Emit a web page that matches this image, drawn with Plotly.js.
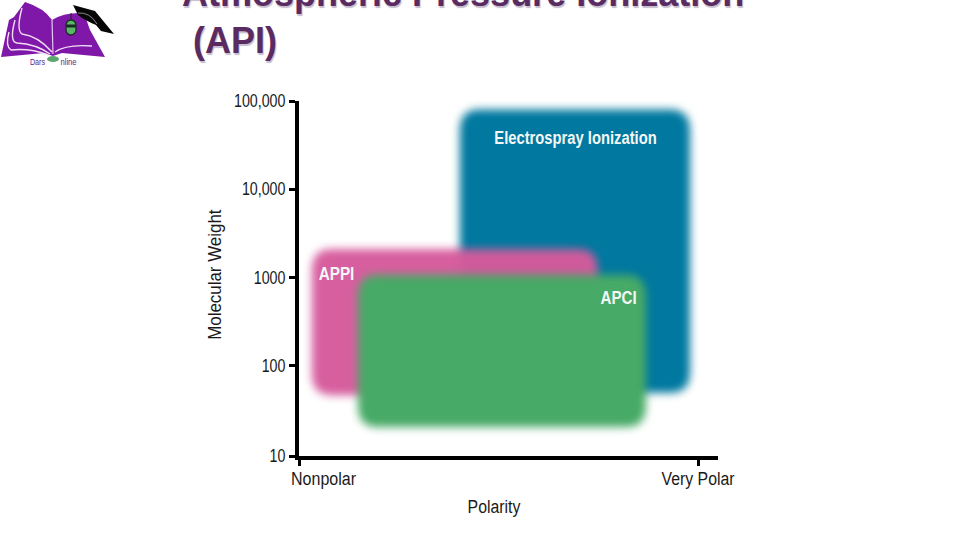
<!DOCTYPE html>
<html>
<head>
<meta charset="utf-8">
<script src="https://cdn.plot.ly/plotly-3.0.1.min.js"></script>
<style>html,body{margin:0;padding:0;background:#fff;overflow:hidden}</style>
</head>
<body>
<div id="chart" style="width:960px;height:540px"></div>
<script>
// Regions (polarity 0..1, molecular weight)
var regionNames = ["Electrospray Ionization", "APPI", "APCI"];
var polarityLow = [0.406, 0.037, 0.152];
var polarityHigh = [0.980, 0.750, 0.870];
var weightLow = [49, 46, 20];
var weightHigh = [80000, 2100, 1070];
var regionColors = ["#00789f", "#d65a9c", "#47aa66"];
var regionOpacity = [1, 0.97, 1];

var labelPolarity = [0.6945, 0.0985, 0.802];
var labelWeight = [36500, 1040, 555];

var weightTicks = [9.4, 100, 1000, 10000, 100000];
var weightTickText = ["10", "100", "1000", "10,000", "100,000"];
var polarityTicks = [0, 1];
var polarityTickText = ["", "Very Polar"];

var W = 960, H = 540, L = 299, R = 718, T = 101, B = 456;
function px(x) { return (x - L) / (R - L); }
function py(y) { return (B - y) / (B - T); }

function regionPath(i) {
  var rx = 0.05, ry = 0.24, f = Math.pow(10, ry);
  var a = polarityLow[i], b = polarityHigh[i], c = weightLow[i], d = weightHigh[i];
  return "M" + (a + rx) + "," + c +
    " L" + (b - rx) + "," + c + " Q" + b + "," + c + " " + b + "," + (c * f) +
    " L" + b + "," + (d / f) + " Q" + b + "," + d + " " + (b - rx) + "," + d +
    " L" + (a + rx) + "," + d + " Q" + a + "," + d + " " + a + "," + (d / f) +
    " L" + a + "," + (c * f) + " Q" + a + "," + c + " " + (a + rx) + "," + c + " Z";
}

var shapes = regionNames.map(function (n, i) {
  return { type: "path", xref: "x", yref: "y", layer: "below", path: regionPath(i),
    fillcolor: regionColors[i], opacity: regionOpacity[i], line: { width: 0 } };
});

var logo = '<svg xmlns="http://www.w3.org/2000/svg" width="120" height="70" viewBox="0 0 120 70">' +
  '<path d="M1,57 L9,20 L14,17 L25,2 Q44,8 52,20 Q64,12 84,13 L90,30 L105,57 L62,53 L53,56 L44,53 Z" fill="#7f18a8"/>' +
  '<path d="M52,20 L53,54" stroke="#e8c8f0" stroke-width="1.2" fill="none"/>' +
  '<path d="M22,8 Q16,30 22,34 Q38,36 52,52 M15,20 Q9,42 17,43 Q36,44 50,54 M9,32 Q5,46 11,50 Q30,48 48,55 M55,52 Q66,44 92,46" stroke="#f2dff6" stroke-width="1.4" fill="none"/>' +
  '<path d="M71,13 L71,22" stroke="#222" stroke-width="1"/>' +
  '<rect x="66" y="20" width="10" height="15" rx="5" fill="#58b868" stroke="#1c2b22" stroke-width="1.3"/>' +
  '<path d="M66,26 L76,26" stroke="#1c2b22" stroke-width="3"/>' +
  '<path d="M73,5 L95,11 L114,34 L101,31 L96,25 Q84,20 78,15 Z" fill="#060606"/>' +
  '<path d="M78,13 Q90,12 97,24" stroke="#ddd" stroke-width="0.6" fill="none"/>' +
  '<ellipse cx="53" cy="59" rx="6" ry="3" fill="#5da66b"/></svg>';

var titleStyle = { family: "Liberation Sans, Arial, sans-serif", size: 36, color: "#5a2a62",
  weight: 700, shadow: "1px 2px 1px #c6bdcc" };
var sans = "Liberation Sans, Arial, sans-serif";
var axisFont = { family: sans, size: 18, color: "#1a1a1a" };

var annotations = [
  { text: "Atmospheric Pressure Ionization", x: px(180), y: py(-6), xref: "paper", yref: "paper",
    xanchor: "left", yanchor: "middle", showarrow: false, font: titleStyle },
  { text: "(API)", x: px(190.5), y: py(40), xref: "paper", yref: "paper",
    xanchor: "left", yanchor: "middle", showarrow: false, font: titleStyle },
  { text: "Nonpolar", x: px(285), y: py(479), xref: "paper", yref: "paper",
    xanchor: "left", yanchor: "middle", showarrow: false, font: axisFont },
  { text: "Polarity", x: px(494), y: py(507), xref: "paper", yref: "paper",
    xanchor: "center", yanchor: "middle", showarrow: false, font: axisFont },
  { text: "Molecular Weight", x: px(215), y: py(275), xref: "paper", yref: "paper", textangle: -90,
    xanchor: "center", yanchor: "middle", showarrow: false, font: axisFont },
  { text: "Dars", x: px(38), y: py(62), xref: "paper", yref: "paper",
    xanchor: "center", yanchor: "middle", showarrow: false, font: { family: sans, size: 9, color: "#5b2a8a" } },
  { text: "nline", x: px(68), y: py(62), xref: "paper", yref: "paper",
    xanchor: "center", yanchor: "middle", showarrow: false, font: { family: sans, size: 9, color: "#5b2a8a" } }
];

var labels = {
  type: "scatter", mode: "text", x: labelPolarity, y: labelWeight, text: regionNames,
  textposition: "middle center", hoverinfo: "skip", showlegend: false,
  textfont: { family: sans, size: 18, color: "#f4f7f6", weight: 700 }
};

var layout = {
  width: W, height: H, showlegend: false,
  paper_bgcolor: "#fff", plot_bgcolor: "#fff",
  margin: { l: L, r: W - R, t: T, b: H - B, pad: 0 },
  xaxis: { type: "linear", range: [(L - 297) / 401, (R - 297) / 401], tickmode: "array", tickvals: polarityTicks.map(function (v) { return Math.max(v, (L - 297) / 401); }), ticktext: polarityTickText,
    ticks: "outside", ticklen: 6, tickwidth: 3, tickcolor: "#000", showgrid: false, zeroline: false,
    showline: true, linecolor: "#000", linewidth: 4, fixedrange: true, ticklabelstandoff: -3,
    tickfont: axisFont },
  yaxis: { type: "log", range: [Math.log10(9.4), 5], tickmode: "array", tickvals: weightTicks, ticktext: weightTickText,
    ticks: "outside", ticklen: 6, tickwidth: 3, tickcolor: "#000", showgrid: false, zeroline: false,
    showline: true, linecolor: "#000", linewidth: 4, fixedrange: true,
    tickfont: axisFont },
  shapes: shapes,
  annotations: annotations,
  images: [{ source: "data:image/svg+xml;charset=utf-8," + encodeURIComponent(logo),
    xref: "paper", yref: "paper", x: px(0), y: py(0), sizex: 120 / (R - L), sizey: 70 / (B - T),
    xanchor: "left", yanchor: "top", sizing: "stretch", layer: "above" }]
};

// horizontal condensing of the labels (the reference uses a narrow face)
function condense(el, k) {
  var len = el.getComputedTextLength();
  el.setAttribute("textLength", len * k);
  el.setAttribute("lengthAdjust", "spacingAndGlyphs");
}
var condenseBy = { "Nonpolar": 0.89, "Polarity": 0.88, "Molecular Weight": 0.94, "Dars": 0.8, "nline": 0.85,
  "Very Polar": 0.88, "Electrospray Ionization": 0.82, "APPI": 0.85, "APCI": 0.84 };

Plotly.newPlot("chart", [labels], layout, { staticPlot: true, displayModeBar: false }).then(function () {
  document.querySelectorAll("#chart .shapelayer path").forEach(function (p) {
    p.style.filter = "blur(4.2px)";
  });
  document.querySelectorAll("#chart svg text").forEach(function (t) {
    var k = condenseBy[t.textContent];
    if (k) condense(t, k);
  });
  document.querySelectorAll("#chart .ytick text").forEach(function (t) { condense(t, 0.79); });
});
</script>
</body>
</html>
